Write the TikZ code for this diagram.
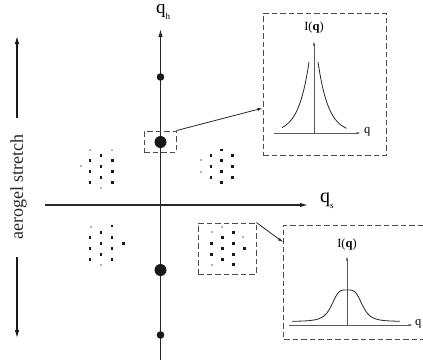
\documentclass[tikz,border=0pt]{standalone}
\usepackage{fontspec}
\setmainfont{Liberation Serif}
\usetikzlibrary{arrows.meta,calc}
\begin{document}
\begin{tikzpicture}[x=1pt,y=-1pt,
  mainaxis/.style={line width=1.1pt, draw=black!85},
  axtip/.style={-{Latex[length=8pt,width=4.4pt]}},
  sidearrow/.style={line width=1.2pt, draw=black!90, -{Latex[length=8pt,width=4.6pt]}},
  bigdot/.style={circle, fill=black!90, inner sep=0pt, minimum size=12pt},
  smalldot/.style={circle, fill=black!90, inner sep=0pt, minimum size=7.6pt},
  dbox/.style={draw=black!70, line width=0.9pt, dash pattern=on 5.5pt off 3pt, inner sep=0pt},
  connector/.style={line width=0.8pt, draw=black!85, -{Latex[length=5pt,width=3pt]}},
  inaxis/.style={line width=0.8pt, draw=black!65, -{Latex[length=4.5pt,width=2.6pt]}},
  curve/.style={line width=0.8pt, draw=black!85},
  lab/.style={font=\fontsize{12.5}{13}\selectfont, inner sep=0pt},
  sq/.style={fill=black!90},
  fsq/.style={fill=black!30}
]
\useasboundingbox (0,0) rectangle (423,360);

% main axes
\coordinate (vb) at (160.5,360);
\coordinate (vt) at (160.5,29);
\coordinate (hl) at (45,205);
\coordinate (hr) at (308,205);
\draw[mainaxis,axtip] (vb) -- (vt);
\draw[mainaxis,axtip] (hl) -- (hr);

\node[anchor=base west, inner sep=0pt, font=\fontsize{19}{19}\selectfont] (qh) at (156,13.7)
  {q\raisebox{-5.5pt}{\fontsize{9}{9}\selectfont h}};
\node[anchor=base west, inner sep=0pt, font=\fontsize{20}{20}\selectfont] (qs) at (320,202.5)
  {q\raisebox{-5.5pt}{\fontsize{9}{9}\selectfont s}};

% dots on the vertical axis
\node[smalldot] (d1) at (160.5,77) {};
\node[bigdot]   (d2) at (160.5,142) {};
\node[bigdot]   (d3) at (160.5,270) {};
\node[smalldot] (d4) at (160.5,335) {};

% aerogel stretch
\node[rotate=90, inner sep=0pt, font=\fontsize{18}{18}\selectfont, text=black!85] (stretch) at (18.5,187) {aerogel stretch};
\coordinate (u0) at (17,118);
\coordinate (u1) at (17,36);
\coordinate (w0) at (17,257);
\coordinate (w1) at (17,338);
\draw[sidearrow] (u0) -- (u1);
\draw[sidearrow] (w0) -- (w1);

% dot clusters
\foreach \p in {(101,155.3),(90,160.3),(112.3,160.3),(101,166.3),(90,171.7),(112.3,171.7),(101,177.3),(90,182.3),(112.3,182.3),
  (221.3,150),(211,155.3),(232.3,155.3),(221.3,160.3),(211,166.3),(232.3,166.3),(221.3,171.7),(211,177.3),(232.3,177.3),(221.3,182.3),
  (112,226),(101,232.3),(90,237.3),(112,237.3),(101,243.3),(123.3,243.3),(90,248.7),(112,248.7),(101,254.3),(112,259.3),(90,259.3),
  (233.3,232.3),(222.3,237.3),(211.7,243.3),(233.3,243.3),(222.3,248.7),(244.3,248.7),(211.7,254.3),(233.3,254.3),(222.3,259.3),(233.3,264.7)}
  \fill[sq] \p ++(-1.3,-1.3) rectangle ++(2.6,2.6);
\foreach \p in {(90,150),(112.3,150),(80.7,166.3),(101,187.7),
  (200.7,160.3),(200.7,171.7),
  (91,227),(101,264.7),
  (222.3,227),(211.7,232.3),(243.3,237.3),(211.7,264.7)}
  \fill[fsq] \p ++(-0.9,-0.9) rectangle ++(1.8,1.8);

% zoom boxes
\node[dbox, minimum width=32pt, minimum height=21pt] (b1) at (160,141.5) {};
\node[dbox, minimum width=58pt, minimum height=51pt] (b2) at (227,248.5) {};

% inset 1
\node[dbox, minimum width=123pt, minimum height=142pt] (inset1) at (324.5,84) {};
\coordinate (a1o) at (314,133);
\coordinate (a1t) at (314,41);
\coordinate (a1l) at (274,133);
\coordinate (a1r) at (361,133);
\draw[inaxis] (a1o) -- (a1t);
\draw[inaxis] (a1l) -- (a1r);
\node[lab] (iq1) at (314,27) {I(\textbf{q})};
\node[lab, anchor=west] (q1) at (364,131.5) {q};
\draw[curve] plot[domain=5:32, samples=40, smooth] ({314-\x}, {133-71*exp(-(\x-5)/10.5)});
\draw[curve] plot[domain=4.5:33, samples=40, smooth] ({313.5+\x}, {133-71*exp(-(\x-4.5)/10.5)});

% inset 2 (cut by the right edge)
\coordinate (i2ne) at (423,225);
\coordinate (i2nw) at (283,225);
\coordinate (i2sw) at (283,339);
\coordinate (i2se) at (423,339);
\draw[dbox] (i2ne) -- (i2nw) -- (i2sw) -- (i2se);
\coordinate (a2o) at (347,325);
\coordinate (a2t) at (347,256);
\coordinate (a2l) at (289,325);
\coordinate (a2r) at (413,325);
\draw[inaxis] (a2o) -- (a2t);
\draw[inaxis] (a2l) -- (a2r);
\node[lab] (iq2) at (347,244) {I(\textbf{q})};
\node[lab, anchor=west] (q2) at (415,324) {q};
\draw[curve] plot[domain=-55:53, samples=100, smooth] ({347+\x}, {321.5-31.5/(1+((\x*\x)/(15.7*15.7))^2)});

% connectors
\draw[connector] (b1.north east) -- ($(inset1.north west)!0.669!(inset1.south west)$);
\draw[connector] (b2.north east) -- ($(i2nw)!0.15!(i2sw)$);
\end{tikzpicture}
\end{document}
